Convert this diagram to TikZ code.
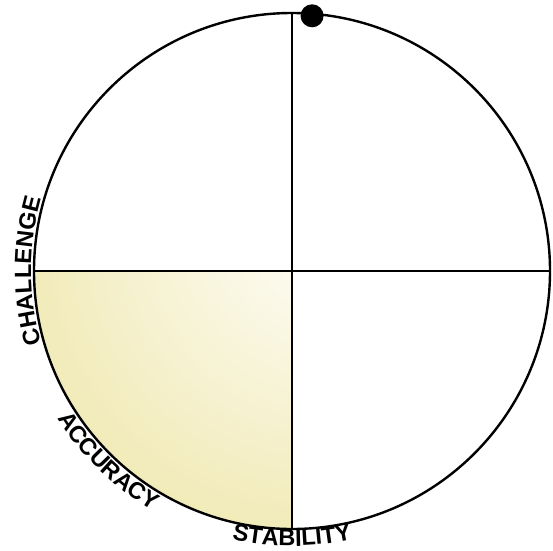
\documentclass[tikz,border=0pt]{standalone}
\usepackage{fontspec}
\setmainfont{Liberation Sans}
\usepackage{tikz}
\usepackage{xcolor}
\usetikzlibrary{calc,decorations.text}
\definecolor{ink} {HTML}{000000}
\definecolor{glow}{HTML}{EAE093}
\newcommand{\axisfont}{\fontsize{23.5}{25}\selectfont\bfseries}
\pgfdeclareradialshading{quadglow}{\pgfpoint{43bp}{45bp}}{%
  color(0bp)=(white); color(8bp)=(white); color(50bp)=(glow!60);
  color(85bp)=(glow); color(150bp)=(glow)}
\tikzset{
  rim/.style   ={draw=ink, line width=2.4pt},
  axis/.style  ={draw=ink, line width=2pt},
  dot/.style   ={circle, fill=ink, inner sep=0pt, minimum size=23pt},
  label/.style ={decorate, decoration={text along path, text align=center}},
}
\begin{document}
\begin{tikzpicture}[x=1pt,y=1pt]
  \useasboundingbox (0,0) rectangle (553,550);
  \coordinate (c)   at (292,279);
  \coordinate (top) at ($(c)+(90:258)$);
  \coordinate (bot) at ($(c)+(270:258)$);
  \coordinate (lft) at ($(c)+(180:258)$);
  \coordinate (rgt) at ($(c)+(0:258)$);
  % the shaded quadrant
  \shade[shading=quadglow] (c) -- (lft) arc[start angle=180, end angle=270, radius=258] -- cycle;
  % circle and axes
  \draw[rim] (c) circle[radius=258];
  \draw[axis] (top) -- (bot);
  \draw[axis] (lft) -- (rgt);
  \node[dot] (marker) at ($(c)+(85.5:256)$) {};
  % labels round the rim
  \path[label, decoration={text={|\axisfont|CHALLENGE}}]
    ($(c)+(210:261)$) arc[start angle=210, end angle=150, radius=261];
  \path[label, decoration={text={|\axisfont|ACCURACY}}]
    ($(c)+(196:277)$) arc[start angle=196, end angle=256, radius=277];
  \path[label, decoration={text={|\axisfont|STABILITY}}]
    ($(c)+(240:275)$) arc[start angle=240, end angle=300, radius=275];
\end{tikzpicture}
\end{document}
